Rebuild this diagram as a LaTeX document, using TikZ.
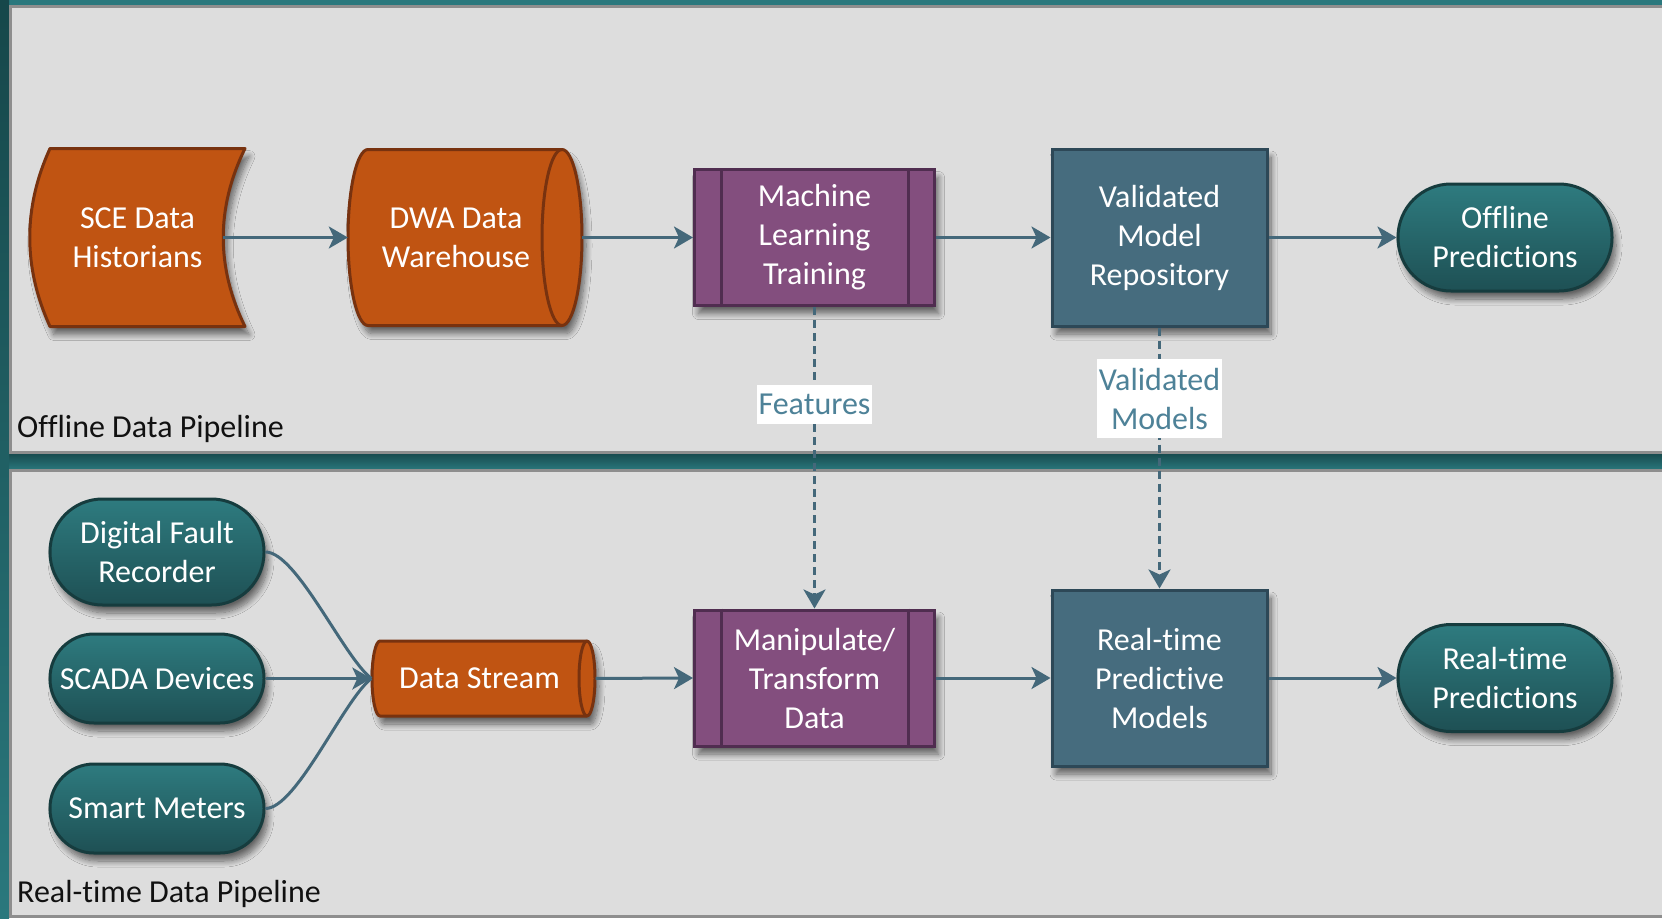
\documentclass[tikz,border=0pt]{standalone}
\usepackage{fontspec}
\setmainfont{Carlito}[Ligatures=NoCommon]
\usetikzlibrary{arrows.meta,calc,shadows.blur}

\definecolor{tealbg}{HTML}{2A787D}
\definecolor{tealshade}{HTML}{16474A}
\definecolor{panelgray}{HTML}{DDDDDD}
\definecolor{panelborder}{HTML}{8E8E8E}
\definecolor{orangefill}{HTML}{C05412}
\definecolor{orangeborder}{HTML}{78320F}
\definecolor{purplefill}{HTML}{834E7E}
\definecolor{purpleborder}{HTML}{502D50}
\definecolor{slatefill}{HTML}{466C7E}
\definecolor{slateborder}{HTML}{2D4857}
\definecolor{ovaltop}{HTML}{2E7B7F}
\definecolor{ovalbottom}{HTML}{1E5054}
\definecolor{ovalborder}{HTML}{163C3E}
\definecolor{arrowc}{HTML}{44687A}
\definecolor{labelc}{HTML}{4E8298}
\definecolor{captionc}{HTML}{111111}

\newcommand\dgfont{\fontsize{32pt}{39pt}\selectfont}

\tikzset{
  soft shadow/.style={blur shadow={shadow xshift=4pt, shadow yshift=-8pt,
      shadow blur radius=6pt, shadow blur steps=10, shadow opacity=55}},
  panel/.style={fill=panelgray, draw=panelborder, line width=3pt},
  txt/.style={text=white, align=center, inner sep=0pt, font=\dgfont},
  storeshape/.style={draw=orangeborder, fill=orangefill, line width=3pt, line join=round},
  procbox/.style={txt, draw=purpleborder, fill=purplefill, line width=3pt,
    minimum width=240pt, minimum height=136pt, soft shadow},
  innerline/.style={draw=purpleborder, line width=3pt},
  modelbox/.style={txt, draw=slateborder, fill=slatefill, line width=3pt,
    minimum width=215pt, soft shadow},
  terminal/.style={txt, draw=ovalborder, top color=ovaltop, bottom color=ovalbottom,
    line width=3pt, minimum width=214pt, soft shadow},
  conn/.style={draw=arrowc, line width=3pt,
    -{Stealth[length=19pt, width=22pt, inset=5pt]}},
  connline/.style={draw=arrowc, line width=3pt},
  dconn/.style={conn, dash pattern=on 8pt off 5pt},
  flowlabel/.style={fill=white, text=labelc, inner xsep=2pt, inner ysep=9pt,
    align=center, font=\dgfont},
  caption/.style={text=captionc, inner sep=0pt, font=\dgfont, anchor=base west},
}

\begin{document}
\begin{tikzpicture}[x=1pt, y=-1pt]
\useasboundingbox (0,0) rectangle (1662,918);

% backdrop and the two pipeline panels
\fill[tealbg] (0,0) rectangle (1662,918);
\fill[top color=tealshade, bottom color=tealbg] (9,452) rectangle (1662,470);
\fill[top color=tealshade, bottom color=tealbg] (0,0) rectangle (9,918);
\path[panel] (10.5,6.5) rectangle (1690,452.5);
\path[panel] (10.5,470) rectangle (1690,916.5);

\node[caption] (offcap) at (17,437) {Offline Data Pipeline};
\node[caption] (rtcap) at (17,902) {Real-time Data Pipeline};

% ---- storage outlines (drawn before their labels) ----
\coordinate (scec) at (137.5,237.5);
\coordinate (dwac) at (456,237.5);
\coordinate (dsc) at (479.5,678.5);

% stored data: convex left side, concave right side
\path[storeshape, soft shadow, shift={(scec)}]
  (-87.5,-89) -- (107.5,-89)
  .. controls (78.5,-30) and (78.5,30) .. (107.5,89)
  -- (-87.5,89)
  .. controls (-114.5,30) and (-114.5,-30) .. (-87.5,-89) -- cycle;
% horizontal drum
\path[storeshape, soft shadow, shift={(dwac)}]
  (-88,-88) -- (106,-88)
  .. controls (117.05,-88) and (126,-48.6) .. (126,0)
  .. controls (126,48.6) and (117.05,88) .. (106,88)
  -- (-88,88)
  .. controls (-99.05,88) and (-108,48.6) .. (-108,0)
  .. controls (-108,-48.6) and (-99.05,-88) .. (-88,-88) -- cycle;
\path[storeshape, fill=none, shift={(dwac)}]
  (106,-88) .. controls (94.95,-88) and (86,-48.6) .. (86,0)
  .. controls (86,48.6) and (94.95,88) .. (106,88);
% small drum for the stream
\path[storeshape, soft shadow, shift={(dsc)}]
  (-99.5,-37.5) -- (107.5,-37.5)
  .. controls (111.9,-37.5) and (115.5,-20.7) .. (115.5,0)
  .. controls (115.5,20.7) and (111.9,37.5) .. (107.5,37.5)
  -- (-99.5,37.5)
  .. controls (-103.9,37.5) and (-107.5,20.7) .. (-107.5,0)
  .. controls (-107.5,-20.7) and (-103.9,-37.5) .. (-99.5,-37.5) -- cycle;
\path[storeshape, fill=none, shift={(dsc)}]
  (107.5,-37.5) .. controls (103.1,-37.5) and (99.5,-20.7) .. (99.5,0)
  .. controls (99.5,20.7) and (103.1,37.5) .. (107.5,37.5);

% ---- offline row ----
\node[txt, minimum width=171pt, minimum height=178pt] (sce) at (scec) {SCE Data\\Historians};
\node[txt, minimum width=216pt, minimum height=176pt] (dwa) at (dwac) {DWA Data\\Warehouse};
\node[procbox] (ml) at (814.5,237.5) {Machine\\Learning\\Training};
\node[modelbox, minimum height=177pt] (vmr) at (1159.5,237.5) {Validated\\Model\\Repository};
\node[terminal, minimum height=107pt, rounded corners=53pt] (op) at (1505,237.5) {Offline\\Predictions};

% ---- real-time row ----
\node[terminal, minimum height=106pt, rounded corners=52.5pt] (dfr) at (157,552) {Digital Fault\\Recorder};
\node[terminal, minimum height=89pt, rounded corners=44pt] (scada) at (157,678.5) {SCADA Devices};
\node[terminal, minimum height=89pt, rounded corners=44pt] (sm) at (157,808.5) {Smart Meters};
\node[txt, minimum width=216pt, minimum height=75pt] (ds) at (dsc) {Data Stream};
\node[procbox] (mt) at (814.5,678) {Manipulate/\\Transform\\Data};
\node[modelbox, minimum height=176pt] (rpm) at (1159.5,678) {Real-time\\Predictive\\Models};
\node[terminal, minimum height=107pt, rounded corners=53pt] (rp) at (1505,678) {Real-time\\Predictions};

% side bars of the predefined-process boxes
\foreach \b in {ml,mt}{
  \draw[innerline] ([xshift=28pt]\b.north west) -- ([xshift=28pt]\b.south west);
  \draw[innerline] ([xshift=-28pt]\b.north east) -- ([xshift=-28pt]\b.south east);
}

% ---- connectors ----
\draw[conn] (sce.east) -- (dwa.west);
\draw[conn, shorten <=18pt] (dwa.east) -- (ml.west);
\draw[conn] (ml.east) -- (vmr.west);
\draw[conn] (vmr.east) -- (op.west);

\draw[dconn] (ml.south) -- node[flowlabel, pos=0.324] (feat) {Features} (mt.north);
\draw[dconn] (vmr.south) -- node[flowlabel, pos=0.273] (valm) {Validated\\Models} (rpm.north);

\draw[connline] (dfr.east) .. controls +(31,0) and +(-28,-22) .. (ds.west);
\draw[connline] (sm.east) .. controls +(31,0) and +(-28,22) .. (ds.west);
\draw[conn] (scada.east) -- (ds.west);
\draw[conn, shorten <=8pt] (ds.east) -- (mt.west);
\draw[conn] (mt.east) -- (rpm.west);
\draw[conn] (rpm.east) -- (rp.west);
\end{tikzpicture}
\end{document}
